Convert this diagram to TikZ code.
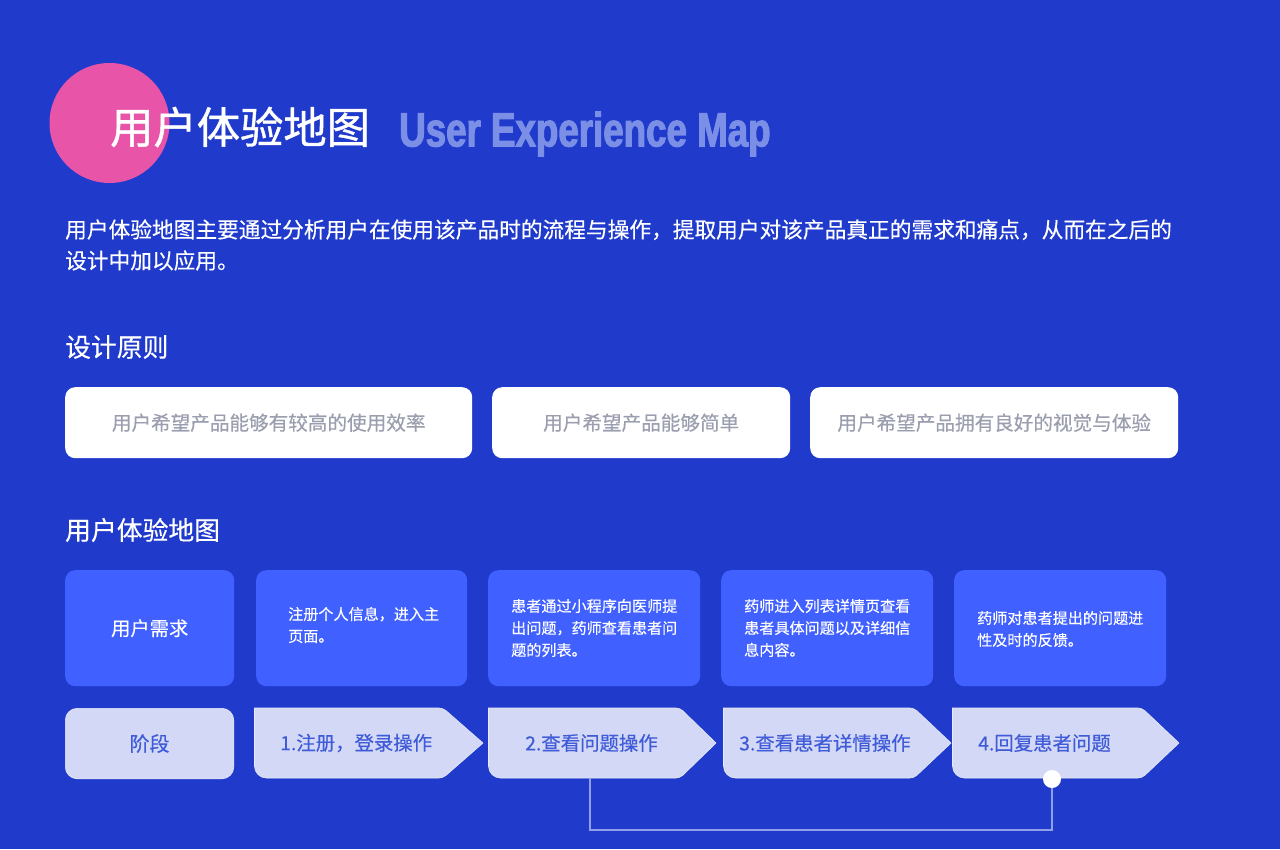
\documentclass[tikz,border=0pt]{standalone}
\usepackage{fontspec}
\usepackage{xcolor}
\setmainfont[FakeBold=0.35]{Noto Sans CJK SC}
\newfontfamily\titlecjk[FakeBold=1]{Noto Sans CJK SC}
\newfontfamily\latinhead[FakeStretch=0.765,FakeBold=2.2]{Liberation Sans Bold}
\definecolor{pagebg}{HTML}{203BCB}
\definecolor{pinkdot}{HTML}{E754A8}
\definecolor{headgrey}{HTML}{7A8FE5}
\definecolor{softgrey}{HTML}{9A9EAE}
\definecolor{needblue}{HTML}{4060FF}
\definecolor{stagepale}{HTML}{D2D8F5}
\definecolor{stageink}{HTML}{3F5BD8}
\definecolor{linkblue}{HTML}{8FA0E8}
\tikzset{
    headtext/.style={anchor=west, inner sep=0pt, text=white, font=\fontsize{25.8}{31}\selectfont},
    bodytext/.style={anchor=west, inner sep=0pt, text=white, align=left, font=\fontsize{21.7}{31}\selectfont},
    wishbox/.style={anchor=north west, inner sep=0pt, fill=white, rounded corners=10pt, minimum height=71,
        text=softgrey, font=\fontsize{19.6}{24}\selectfont},
    needbox/.style={anchor=north west, inner sep=0pt, fill=needblue, rounded corners=10pt, minimum height=116},
    needtext/.style={anchor=west, inner sep=0pt, text=white, align=left, font=\fontsize{15.1}{22}\selectfont},
    stagearea/.style={inner sep=0pt, outer sep=0pt, minimum height=70},
    stageline/.style={fill=stagepale, draw=white!50!stagepale, line width=0.6pt},
    stagetext/.style={anchor=west, inner sep=0pt, text=stageink, font=\fontsize{19.4}{24}\selectfont},
    linkline/.style={draw=linkblue, line width=1.8pt},
}
% name, left edge, shoulder, tip
\newcommand{\stageshape}[4]{
    \node[stagearea, minimum width={#4-#2}] (#1) at ({(#2+#4)/2},743) {};
    \path[stageline] (#1.east) [rounded corners=4pt] -- (#3,708) [sharp corners] -- (#1.north west)
    [rounded corners=12pt] -- (#1.south west) [rounded corners=4pt] -- (#3,778) [sharp corners] -- cycle;
}
\begin{document}
\begin{tikzpicture}[x=1pt,y=-1pt]
    \useasboundingbox (0,0) rectangle (1280,849);
    \fill[pagebg] (0,0) rectangle (1280,849);

    % title
    \node[circle, fill=pinkdot, minimum size=120, inner sep=0pt] (titledot) at (109.5,123) {};
    \node[anchor=west, inner sep=0pt, text=white, font=\fontsize{43.3}{50}\titlecjk] (title) at (110,127) {用户体验地图};
    \node[anchor=west, inner sep=0pt, text=headgrey, font=\fontsize{48}{50}\latinhead] (titleen) at (399,134) {User Experience Map};
    \node[bodytext] (intro) at (65,245) {用户体验地图主要通过分析用户在使用该产品时的流程与操作，提取用户对该产品真正的需求和痛点，从而在之后的\\设计中加以应用。};

    % principles
    \node[headtext] (principles) at (65,347) {设计原则};
    \node[wishbox, minimum width=407] (wisha) at (65,387) {用户希望产品能够有较高的使用效率};
    \node[wishbox, minimum width=298] (wishb) at (492,387) {用户希望产品能够简单};
    \node[wishbox, minimum width=368] (wishc) at (810,387) {用户希望产品拥有良好的视觉与体验};

    % map
    \node[headtext] (maphead) at (65,530) {用户体验地图};
    \node[needbox, minimum width=169, text=white, font=\fontsize{19.3}{24}\selectfont] (needhead) at (65,570) {用户需求};
    \node[needbox, minimum width=211] (needa) at (256,570) {};
    \node[needbox, minimum width=212] (needb) at (488,570) {};
    \node[needbox, minimum width=212] (needc) at (721,570) {};
    \node[needbox, minimum width=212] (needd) at (954,570) {};
    \node[needtext] (needatext) at (288,625) {注册个人信息，进入主\\页面。};
    \node[needtext] (needbtext) at (511,628) {患者通过小程序向医师提\\出问题，药师查看患者问\\题的列表。};
    \node[needtext] (needctext) at (744,628) {药师进入列表详情页查看\\患者具体问题以及详细信\\息内容。};
    \node[needtext] (needdtext) at (977,629) {药师对患者提出的问题进\\性及时的反馈。};

    % stages
    \node[anchor=north west, inner sep=0pt, stageline, rounded corners=12pt, minimum width=168.5, minimum height=70.5,
        text=stageink, font=\fontsize{20}{24}\selectfont] (stagehead) at (65,708) {阶段};
    \stageshape{stageone}{254.5}{443}{483}
    \stageshape{stagetwo}{488.5}{680}{716}
    \stageshape{stagethree}{723.5}{914}{951}
    \stageshape{stagefour}{952.5}{1142}{1179}
    \node[stagetext] (stageonetext) at (280,743) {1.注册，登录操作};
    \node[stagetext] (stagetwotext) at (525,743) {2.查看问题操作};
    \node[stagetext] (stagethreetext) at (739,743) {3.查看患者详情操作};
    \node[stagetext] (stagefourtext) at (978,743) {4.回复患者问题};

    \node[circle, fill=white, minimum size=18, inner sep=0pt] (replydot) at (1052,779) {};
    \draw[linkline] ([xshift=-12.5pt]stagetwo.south) -- ++(0,52) -| (replydot.south);
\end{tikzpicture}
\end{document}
